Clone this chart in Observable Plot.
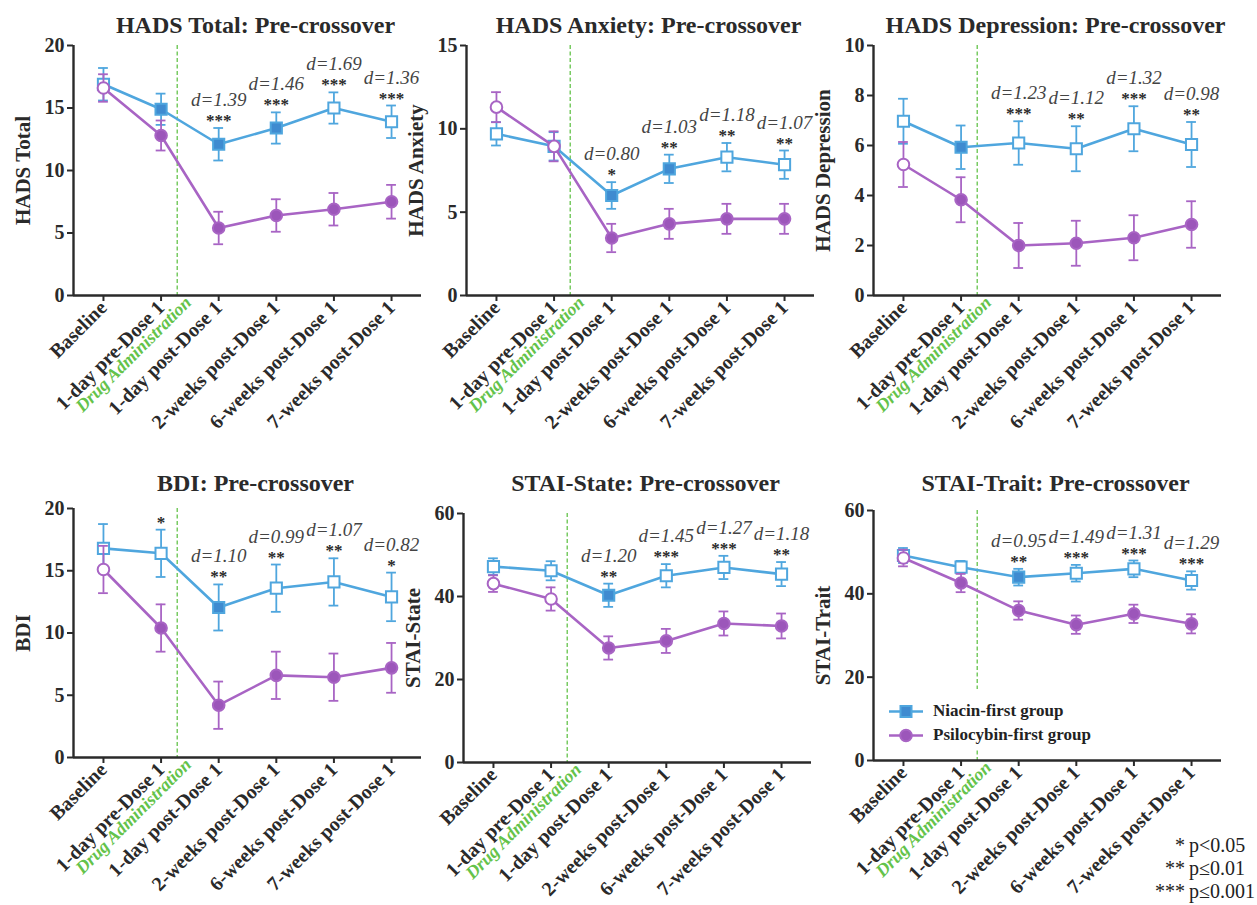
<!DOCTYPE html>
<html>
<head>
<meta charset="utf-8">
<script src="https://cdn.jsdelivr.net/npm/d3@7"></script>
<script src="https://cdn.jsdelivr.net/npm/@observablehq/plot@0.6"></script>
<style>
  body { margin: 0; background: #fff; }
  #chart { position: relative; width: 1257px; height: 905px; overflow: hidden; background: #fff;
           font-family: "Liberation Serif", "Times New Roman", serif; color: #222; }
  #chart svg.panel { position: absolute; }
  #chart svg.panel text { font-family: "Liberation Serif", "Times New Roman", serif !important; }
  #legend { position: absolute; left: 886px; top: 689px; padding: 10px 6px 2px 2px; background: #fff;
            font-weight: bold; font-size: 17px; }
  #legend .item { display: flex; align-items: center; height: 24px; }
  #legend svg { margin-right: 9px; }
  #pnotes { position: absolute; left: 1128px; top: 834px; display: grid; grid-template-columns: 57px auto;
            column-gap: 4px; font-size: 20px; line-height: 23px; }
  #pnotes .st { text-align: right; }
</style>
</head>
<body>
<div id="chart"></div>
<script>
// Study visits shown on every x axis
const timepoints = ["Baseline", "1-day pre-Dose 1", "1-day post-Dose 1",
  "2-weeks post-Dose 1", "6-weeks post-Dose 1", "7-weeks post-Dose 1"];
const groups = ["Niacin-first group", "Psilocybin-first group"];
const doseLabel = "Drug Administration";
const doseIndex = 1.28; // Dose 1 falls between the pre- and post-dose visits
const pLegend = [["*", "p<0.05"], ["**", "p≤0.01"], ["***", "p≤0.001"]];

// HADS Total (mean ± SEM); filled = marker drawn solid
const hadsTotalTitle = "HADS Total: Pre-crossover";
const hadsTotalNiacin = [16.9, 14.9, 12.1, 13.4, 15.0, 13.9];
const hadsTotalNiacinSE = [1.3, 1.25, 1.3, 1.25, 1.25, 1.3];
const hadsTotalNiacinFilled = [false, true, true, true, false, false];
const hadsTotalPsilo = [16.6, 12.8, 5.4, 6.4, 6.9, 7.5];
const hadsTotalPsiloSE = [1.1, 1.2, 1.3, 1.3, 1.3, 1.35];
const hadsTotalPsiloFilled = [false, true, true, true, true, true];
const hadsTotalStars = ["", "", "***", "***", "***", "***"];
const hadsTotalD = ["", "", "1.39", "1.46", "1.69", "1.36"];

// HADS Anxiety
const hadsAnxTitle = "HADS Anxiety: Pre-crossover";
const hadsAnxNiacin = [9.7, 8.95, 6.0, 7.6, 8.3, 7.85];
const hadsAnxNiacinSE = [0.7, 0.85, 0.8, 0.85, 0.85, 0.85];
const hadsAnxNiacinFilled = [false, false, true, true, false, false];
const hadsAnxPsilo = [11.3, 8.95, 3.45, 4.3, 4.6, 4.6];
const hadsAnxPsiloSE = [0.9, 0.9, 0.85, 0.9, 0.9, 0.9];
const hadsAnxPsiloFilled = [false, false, true, true, true, true];
const hadsAnxStars = ["", "", "*", "**", "**", "**"];
const hadsAnxD = ["", "", "0.80", "1.03", "1.18", "1.07"];

// HADS Depression
const hadsDepTitle = "HADS Depression: Pre-crossover";
const hadsDepNiacin = [6.97, 5.93, 6.1, 5.87, 6.67, 6.04];
const hadsDepNiacinSE = [0.9, 0.87, 0.87, 0.9, 0.9, 0.9];
const hadsDepNiacinFilled = [false, true, false, false, false, false];
const hadsDepPsilo = [5.24, 3.83, 2.0, 2.09, 2.31, 2.84];
const hadsDepPsiloSE = [0.9, 0.9, 0.9, 0.9, 0.9, 0.93];
const hadsDepPsiloFilled = [false, true, true, true, true, true];
const hadsDepStars = ["", "", "***", "**", "***", "**"];
const hadsDepD = ["", "", "1.23", "1.12", "1.32", "0.98"];

// BDI
const bdiTitle = "BDI: Pre-crossover";
const bdiNiacin = [16.8, 16.4, 12.05, 13.6, 14.1, 12.9];
const bdiNiacinSE = [1.95, 1.9, 1.85, 1.9, 1.9, 1.95];
const bdiNiacinFilled = [false, false, true, false, false, false];
const bdiPsilo = [15.1, 10.4, 4.2, 6.6, 6.45, 7.2];
const bdiPsiloSE = [1.9, 1.9, 1.9, 1.9, 1.9, 2.0];
const bdiPsiloFilled = [false, true, true, true, true, true];
const bdiStars = ["", "*", "**", "**", "**", "*"];
const bdiD = ["", "", "1.10", "0.99", "1.07", "0.82"];

// STAI-State
const staiStateTitle = "STAI-State: Pre-crossover";
const staiStateNiacin = [47.2, 46.2, 40.3, 45.0, 47.0, 45.4];
const staiStateNiacinSE = [2.0, 2.3, 2.8, 2.8, 2.8, 2.9];
const staiStateNiacinFilled = [false, false, true, false, false, false];
const staiStatePsilo = [43.1, 39.4, 27.6, 29.3, 33.5, 32.9];
const staiStatePsiloSE = [2.0, 2.8, 2.8, 2.9, 2.9, 3.0];
const staiStatePsiloFilled = [false, false, true, true, true, true];
const staiStateStars = ["", "", "**", "***", "***", "**"];
const staiStateD = ["", "", "1.20", "1.45", "1.27", "1.18"];

// STAI-Trait
const staiTraitTitle = "STAI-Trait: Pre-crossover";
const staiTraitNiacin = [49.2, 46.4, 44.0, 44.95, 46.0, 43.2];
const staiTraitNiacinSE = [1.8, 1.5, 2.0, 2.0, 2.0, 2.2];
const staiTraitNiacinFilled = [false, false, true, false, false, false];
const staiTraitPsilo = [48.6, 42.6, 36.0, 32.6, 35.2, 32.8];
const staiTraitPsiloSE = [2.0, 2.2, 2.2, 2.2, 2.2, 2.3];
const staiTraitPsiloFilled = [false, true, true, true, true, true];
const staiTraitStars = ["", "", "**", "***", "***", "***"];
const staiTraitD = ["", "", "0.95", "1.49", "1.31", "1.29"];

// ---- styling ----
const niacinLine = "#4fa6de", niacinFill = "#3f8bd0";
const psiloLine = "#a864c4", psiloFill = "#9c56ba";
const green = "#64c34a";
const ink = "#2a2a2a";
const font = "Liberation Serif, Times New Roman, serif";

const xDomain = [-0.52, 5.52];
const frameWidth = 348, marginLeft = 73, marginRight = 14, marginBottom = 150;

const panels = [
  {title: hadsTotalTitle, yLabel: "HADS Total", yMax: 20, yStep: 5,
   niacin: hadsTotalNiacin, niacinSE: hadsTotalNiacinSE, niacinFilled: hadsTotalNiacinFilled,
   psilo: hadsTotalPsilo, psiloSE: hadsTotalPsiloSE, psiloFilled: hadsTotalPsiloFilled,
   stars: hadsTotalStars, effects: hadsTotalD, left: 0, top: 0, marginTop: 45, plotH: 250},
  {title: hadsAnxTitle, yLabel: "HADS Anxiety", yMax: 15, yStep: 5,
   niacin: hadsAnxNiacin, niacinSE: hadsAnxNiacinSE, niacinFilled: hadsAnxNiacinFilled,
   psilo: hadsAnxPsilo, psiloSE: hadsAnxPsiloSE, psiloFilled: hadsAnxPsiloFilled,
   stars: hadsAnxStars, effects: hadsAnxD, left: 393, top: 0, marginTop: 45, plotH: 250},
  {title: hadsDepTitle, yLabel: "HADS Depression", yMax: 10, yStep: 2,
   niacin: hadsDepNiacin, niacinSE: hadsDepNiacinSE, niacinFilled: hadsDepNiacinFilled,
   psilo: hadsDepPsilo, psiloSE: hadsDepPsiloSE, psiloFilled: hadsDepPsiloFilled,
   stars: hadsDepStars, effects: hadsDepD, left: 800, top: 0, marginTop: 45, plotH: 250},
  {title: bdiTitle, yLabel: "BDI", yMax: 20, yStep: 5,
   niacin: bdiNiacin, niacinSE: bdiNiacinSE, niacinFilled: bdiNiacinFilled,
   psilo: bdiPsilo, psiloSE: bdiPsiloSE, psiloFilled: bdiPsiloFilled,
   stars: bdiStars, effects: bdiD, left: 0, top: 458, marginTop: 50, plotH: 249},
  {title: staiStateTitle, yLabel: "STAI-State", yMax: 60, yStep: 20,
   niacin: staiStateNiacin, niacinSE: staiStateNiacinSE, niacinFilled: staiStateNiacinFilled,
   psilo: staiStatePsilo, psiloSE: staiStatePsiloSE, psiloFilled: staiStatePsiloFilled,
   stars: staiStateStars, effects: staiStateD, left: 390, top: 458, marginTop: 55, plotH: 249},
  {title: staiTraitTitle, yLabel: "STAI-Trait", yMax: 60, yStep: 20,
   niacin: staiTraitNiacin, niacinSE: staiTraitNiacinSE, niacinFilled: staiTraitNiacinFilled,
   psilo: staiTraitPsilo, psiloSE: staiTraitPsiloSE, psiloFilled: staiTraitPsiloFilled,
   stars: staiTraitStars, effects: staiTraitD, left: 800, top: 458, marginTop: 52, plotH: 250}
];

function drawPanel(p) {
  const series = [
    {mean: p.niacin, se: p.niacinSE, filled: p.niacinFilled, line: niacinLine, fill: niacinFill, symbol: "square", r: 6.3},
    {mean: p.psilo, se: p.psiloSE, filled: p.psiloFilled, line: psiloLine, fill: psiloFill, symbol: "circle", r: 5.8}
  ];
  const cap = 0.085;
  const marks = [
    Plot.ruleX([doseIndex], {x: d => d, stroke: green, strokeWidth: 1.3, strokeDasharray: "4,2.5"}),
    Plot.ruleY([0], {stroke: ink, strokeWidth: 2.4}),
    Plot.ruleX([xDomain[0]], {x: d => d, stroke: ink, strokeWidth: 2.4}),
    Plot.axisY({ticks: d3.range(0, p.yMax + 1e-9, p.yStep), tickSize: 6, tickPadding: 3,
      strokeWidth: 2, stroke: ink, fill: ink, fontFamily: font, fontSize: 20, fontWeight: "bold", label: null}),
    Plot.axisX({ticks: d3.range(timepoints.length), tickFormat: i => timepoints[i], tickRotate: -45,
      tickSize: 6, tickPadding: 3, strokeWidth: 2, stroke: ink, fill: ink, fontFamily: font,
      fontSize: 20, fontWeight: "bold", label: null})
  ];
  for (const s of series) {
    const rows = s.mean.map((m, i) => ({i, m, lo: m - s.se[i], hi: m + s.se[i], filled: s.filled[i]}));
    marks.push(
      Plot.ruleX(rows, {x: "i", y1: "lo", y2: "hi", stroke: s.line, strokeWidth: 1.8}),
      Plot.ruleY(rows, {y: "hi", x1: d => d.i - cap, x2: d => d.i + cap, stroke: s.line, strokeWidth: 1.8}),
      Plot.ruleY(rows, {y: "lo", x1: d => d.i - cap, x2: d => d.i + cap, stroke: s.line, strokeWidth: 1.8}),
      Plot.line(rows, {x: "i", y: "m", stroke: s.line, strokeWidth: 2.6}),
      Plot.dot(rows, {x: "i", y: "m", symbol: s.symbol, r: s.r, stroke: s.line, strokeWidth: 2,
        fill: d => d.filled ? s.fill : "white"})
    );
  }
  // significance stars and effect sizes above the higher error bar
  const ann = p.stars.map((st, i) => ({i, st, d: p.effects[i],
    top: Math.max(p.niacin[i] + p.niacinSE[i], p.psilo[i] + p.psiloSE[i])})).filter(a => a.st);
  marks.push(
    Plot.text(ann, {x: "i", y: "top", text: "st", lineAnchor: "bottom", dy: -2, fontFamily: font,
      fontSize: 17, fontWeight: "bold", fill: ink}),
    Plot.text(ann.filter(a => a.d), {x: "i", y: "top", text: a => `d=${a.d}`, lineAnchor: "bottom", dy: -22,
      fontFamily: font, fontSize: 19, fontStyle: "italic", fontWeight: "normal", fill: "#444"}),
    Plot.text([p.title], {frameAnchor: "top", lineAnchor: "middle", textAnchor: "middle", dy: 25 - p.marginTop, dx: 8,
      fontFamily: font, fontSize: 24, fontWeight: "bold", fill: ink}),
    Plot.text([p.yLabel], {frameAnchor: "left", textAnchor: "middle", lineAnchor: "middle", rotate: -90, dx: -50,
      fontFamily: font, fontSize: 21, fontWeight: "bold", fill: ink}),
    Plot.text([doseIndex], {x: d => d, text: () => doseLabel, frameAnchor: "bottom", rotate: -45,
      textAnchor: "end", lineAnchor: "middle", dx: 11, dy: 4, fontFamily: font, fontSize: 18,
      fontStyle: "italic", fontWeight: "bold", fill: green})
  );
  const svg = Plot.plot({
    width: marginLeft + frameWidth + marginRight,
    height: p.marginTop + p.plotH + marginBottom,
    marginLeft, marginRight, marginTop: p.marginTop, marginBottom,
    x: {type: "linear", domain: xDomain},
    y: {type: "linear", domain: [0, p.yMax]},
    style: {fontFamily: font, fontWeight: "bold", background: "transparent", overflow: "visible", color: ink},
    marks
  });
  svg.classList.add("panel");
  svg.style.left = p.left + "px";
  svg.style.top = p.top + "px";
  return svg;
}

const chart = document.getElementById("chart");
for (const p of panels) chart.appendChild(drawPanel(p));

// group legend, drawn over the last panel
const legend = document.createElement("div");
legend.id = "legend";
const swatches = [
  {line: niacinLine, fill: niacinFill, shape: `<rect x="12.5" y="3" width="11" height="11"`},
  {line: psiloLine, fill: psiloFill, shape: `<circle cx="18" cy="8.5" r="5.8"`}
];
legend.innerHTML = groups.map((g, k) => `<div class="item"><svg width="36" height="17">
  <line x1="1" x2="35" y1="8.5" y2="8.5" stroke="${swatches[k].line}" stroke-width="2.6"/>
  ${swatches[k].shape} fill="${swatches[k].fill}" stroke="${swatches[k].line}" stroke-width="2"/></svg>
  <span>${g}</span></div>`).join("");
chart.appendChild(legend);

// significance key
const pnotes = document.createElement("div");
pnotes.id = "pnotes";
pnotes.innerHTML = pLegend.map(([s, t]) => `<span class="st">${s}</span><span>${t}</span>`).join("");
chart.appendChild(pnotes);
</script>
</body>
</html>
